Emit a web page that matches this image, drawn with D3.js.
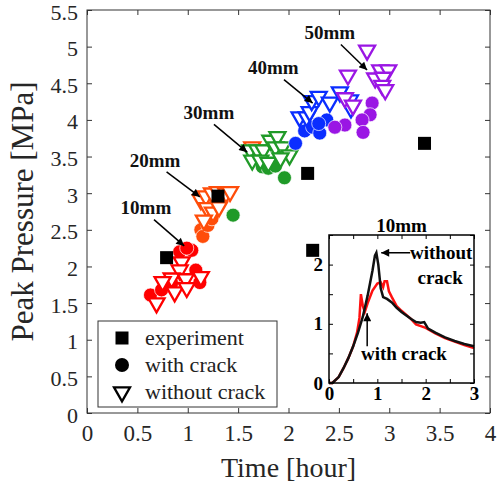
<!DOCTYPE html>
<html><head><meta charset="utf-8">
<script src="https://cdn.jsdelivr.net/npm/d3@7"></script>
<style>body{margin:0;background:#fff}text{font-family:"Liberation Serif","Times New Roman",serif}</style>
</head><body><svg id="c" width="498" height="492"></svg>
<script>
// ---------- data ----------
const xTicks = [0, 0.5, 1, 1.5, 2, 2.5, 3, 3.5, 4];
const yTicks = [0, 0.5, 1, 1.5, 2, 2.5, 3, 3.5, 4, 4.5, 5, 5.5];
const thickness = ["10mm", "20mm", "30mm", "40mm", "50mm"];
const colors = ["#ff0000", "#ff4d0a", "#209a28", "#0a2dff", "#9a16e4"];

const experiment = [[0.79, 2.12], [1.30, 2.96], [2.19, 3.27], [2.24, 2.22], [3.35, 3.68]];

const withCrack10 = [[0.63, 1.61], [0.74, 1.68], [0.84, 1.77], [1.08, 1.95], [1.12, 1.78], [0.92, 2.20], [1.04, 2.22], [0.99, 2.25]];
const withoutCrack10 = [[0.94, 2.06], [0.92, 1.95], [0.84, 1.84], [0.75, 1.79], [0.98, 1.83], [1.13, 1.86], [0.87, 1.65], [0.99, 1.71], [0.69, 1.50]];
const withCrack20 = [[1.13, 2.50], [1.15, 2.41], [1.20, 2.56], [1.24, 2.65]];
const withoutCrack20 = [[1.13, 2.91], [1.18, 2.96], [1.24, 3.00], [1.30, 3.02], [1.38, 3.00], [1.42, 3.02], [1.19, 2.80], [1.25, 2.74], [1.16, 2.63], [1.31, 2.81], [1.64, 3.63]];
const withCrack30 = [[1.45, 2.70], [1.74, 3.36], [1.80, 3.34], [1.87, 3.37], [1.96, 3.21]];
const withoutCrack30 = [[1.62, 3.59], [1.69, 3.59], [1.75, 3.59], [1.82, 3.72], [1.89, 3.77], [1.87, 3.63], [1.94, 3.63], [2.01, 3.52], [1.64, 3.45], [1.72, 3.45], [1.80, 3.42], [1.92, 3.48]];
const withCrack40 = [[2.07, 3.68], [2.16, 3.85], [2.24, 3.90], [2.31, 3.82], [2.38, 4.00], [2.30, 3.95]];
const withoutCrack40 = [[2.11, 4.04], [2.18, 4.04], [2.21, 4.11], [2.23, 4.26], [2.30, 4.32], [2.41, 4.24], [2.51, 4.38], [2.61, 4.27], [2.62, 4.16]];
const withCrack50 = [[2.83, 4.23], [2.81, 4.07], [2.73, 4.00], [2.56, 3.93], [2.74, 3.83], [2.46, 3.90]];
const withoutCrack50 = [[2.78, 4.95], [2.59, 4.61], [2.91, 4.68], [2.99, 4.68], [2.86, 4.57], [2.94, 4.58], [2.93, 4.47], [2.96, 4.41], [2.56, 4.30], [2.64, 4.20]];

const withCrackSets = [withCrack10, withCrack20, withCrack30, withCrack40, withCrack50];
const withoutCrackSets = [withoutCrack10, withoutCrack20, withoutCrack30, withoutCrack40, withoutCrack50];

// annotation label position and arrow (data units)
const annotations = [
  {label: "10mm", tx: 0.585, ty: 2.80, x1: 0.665, y1: 2.64, x2: 0.965, y2: 2.28},
  {label: "20mm", tx: 0.675, ty: 3.44, x1: 0.79, y1: 3.29, x2: 1.12, y2: 2.95},
  {label: "30mm", tx: 1.21, ty: 4.09, x1: 1.26, y1: 3.94, x2: 1.59, y2: 3.56},
  {label: "40mm", tx: 1.85, ty: 4.71, x1: 1.955, y1: 4.55, x2: 2.24, y2: 4.23},
  {label: "50mm", tx: 2.41, ty: 5.18, x1: 2.52, y1: 5.03, x2: 2.78, y2: 4.68}
];

const legendLabels = ["experiment", "with crack", "without crack"];

// inset: pressure history at 10mm
const insetXTicks = [0, 0.5, 1, 1.5, 2, 2.5, 3];
const insetYTicks = [0, 0.5, 1, 1.5, 2, 2.5];
const noCrackT = [0, 0.07, 0.2, 0.3, 0.4, 0.5, 0.6, 0.7, 0.8, 0.9, 0.95, 0.98, 1.02, 1.07, 1.12, 1.2, 1.3, 1.4, 1.5, 1.6, 1.7, 1.8, 1.9, 1.97, 2.05, 2.2, 2.4, 2.6, 2.8, 3.0];
const noCrackP = [0, 0, 0.1, 0.25, 0.42, 0.62, 0.85, 1.12, 1.48, 1.9, 2.15, 2.2, 2.0, 1.6, 1.45, 1.42, 1.36, 1.27, 1.2, 1.14, 1.08, 1.03, 1.02, 1.03, 0.92, 0.85, 0.77, 0.71, 0.66, 0.62];
const crackT = [0, 0.07, 0.2, 0.3, 0.4, 0.5, 0.58, 0.63, 0.66, 0.7, 0.74, 0.8, 0.9, 1.0, 1.07, 1.12, 1.15, 1.2, 1.24, 1.3, 1.4, 1.5, 1.6, 1.7, 1.8, 1.9, 2.0, 2.2, 2.4, 2.6, 2.8, 3.0];
const crackP = [0, 0, 0.1, 0.25, 0.42, 0.62, 0.85, 1.1, 1.5, 1.3, 1.2, 1.35, 1.56, 1.68, 1.7, 1.62, 1.72, 1.72, 1.55, 1.45, 1.3, 1.22, 1.15, 1.08, 0.99, 0.96, 0.93, 0.84, 0.76, 0.7, 0.64, 0.59];

// ---------- drawing ----------
const svg = d3.select("#c");
const L = 87, R = 490, T = 10, B = 413;
const x = d3.scaleLinear().domain([0, 4]).range([L, R]);
const y = d3.scaleLinear().domain([0, 5.5]).range([B, T]);
const axisColor = "#333";

svg.append("defs").append("marker")
  .attr("id", "ah").attr("viewBox", "0 0 10 10").attr("refX", 10).attr("refY", 5)
  .attr("markerWidth", 10).attr("markerHeight", 8).attr("markerUnits", "userSpaceOnUse")
  .attr("orient", "auto")
  .append("path").attr("d", "M0,0L10,5L0,10z").attr("fill", "#000");

svg.append("rect").attr("x", L).attr("y", T).attr("width", R - L).attr("height", B - T)
  .attr("fill", "#fff");

function styleAxis(g, fs) {
  g.select(".domain").remove();
  g.selectAll("line").attr("stroke", axisColor);
  g.selectAll("text").attr("font-size", fs).attr("fill", "#262626")
    .attr("font-family", "'Liberation Serif', serif");
}
svg.append("g").attr("transform", `translate(0,${B})`)
  .call(d3.axisBottom(x).tickValues(xTicks).tickSizeInner(-5).tickSizeOuter(0).tickPadding(12).tickFormat(d3.format("")))
  .call(g => styleAxis(g, 23));
svg.append("g").attr("transform", `translate(0,${T})`)
  .call(d3.axisTop(x).tickValues(xTicks).tickSizeInner(-5).tickSizeOuter(0).tickFormat(""))
  .call(g => styleAxis(g, 23));
svg.append("g").attr("transform", `translate(${L},0)`)
  .call(d3.axisLeft(y).tickValues(yTicks).tickSizeInner(-5).tickSizeOuter(0).tickPadding(9).tickFormat(d3.format("")))
  .call(g => styleAxis(g, 22))
  .call(g => g.selectAll("text").attr("y", 2));
svg.append("g").attr("transform", `translate(${R},0)`)
  .call(d3.axisRight(y).tickValues(yTicks).tickSizeInner(-5).tickSizeOuter(0).tickFormat(""))
  .call(g => styleAxis(g, 23));
svg.append("rect").attr("x", L).attr("y", T).attr("width", R - L).attr("height", B - T)
  .attr("fill", "none").attr("stroke", axisColor).attr("stroke-width", 1);

svg.append("text").attr("x", (L + R) / 2).attr("y", 477).attr("text-anchor", "middle")
  .attr("font-size", 28).attr("fill", "#262626").text("Time [hour]");
svg.append("text").attr("transform", `translate(33,${(T + B) / 2}) rotate(-90)`)
  .attr("text-anchor", "middle").attr("font-size", 31).attr("fill", "#262626")
  .text("Peak Pressure [MPa]");

// markers
const TW = 16, TH = 14;
const triPath = `M${-TW / 2},${-TH / 3}L${TW / 2},${-TH / 3}L0,${2 * TH / 3}Z`;
const plot = svg.append("g");
thickness.forEach((t, i) => {
  plot.append("g").selectAll("circle").data(withCrackSets[i]).join("circle")
    .attr("cx", d => x(d[0])).attr("cy", d => y(d[1])).attr("r", 7)
    .attr("fill", colors[i]).attr("stroke", "#fff").attr("stroke-width", 0.7);
  plot.append("g").selectAll("path").data(withoutCrackSets[i]).join("path")
    .attr("d", triPath).attr("transform", d => `translate(${x(d[0])},${y(d[1])})`)
    .attr("fill", "#fff").attr("stroke", colors[i]).attr("stroke-width", 2.3);
});
plot.append("g").selectAll("rect").data(experiment).join("rect")
  .attr("x", d => x(d[0]) - 6.5).attr("y", d => y(d[1]) - 6.5)
  .attr("width", 13).attr("height", 13).attr("fill", "#000");

// annotations
const ann = svg.append("g");
ann.selectAll("line").data(annotations).join("line")
  .attr("x1", d => x(d.x1)).attr("y1", d => y(d.y1)).attr("x2", d => x(d.x2)).attr("y2", d => y(d.y2))
  .attr("stroke", "#000").attr("stroke-width", 1.5).attr("marker-end", "url(#ah)");
ann.selectAll("text").data(annotations).join("text")
  .attr("x", d => x(d.tx)).attr("y", d => y(d.ty) + 6).attr("text-anchor", "middle")
  .attr("font-size", 19).attr("font-weight", "bold").attr("fill", "#111").text(d => d.label);

// legend
const lg = svg.append("g");
lg.append("rect").attr("x", 98).attr("y", 321).attr("width", 179).attr("height", 86)
  .attr("fill", "#fff").attr("stroke", axisColor).attr("stroke-width", 1);
const ly = [338, 365, 392];
lg.append("rect").attr("x", 122 - 6.5).attr("y", ly[0] - 6.5).attr("width", 13).attr("height", 13).attr("fill", "#000");
lg.append("circle").attr("cx", 122).attr("cy", ly[1]).attr("r", 7).attr("fill", "#000");
lg.append("path").attr("d", triPath).attr("transform", `translate(122,${ly[2]})`)
  .attr("fill", "#fff").attr("stroke", "#000").attr("stroke-width", 2.3);
lg.selectAll("text.l").data(legendLabels).join("text").attr("class", "l")
  .attr("x", 145).attr("y", (d, i) => ly[i] + 7).attr("font-size", 22).attr("fill", "#222").text(d => d);

// inset
const iL = 329, iR = 474, iT = 235, iB = 383;
const ix = d3.scaleLinear().domain([0, 3]).range([iL, iR]);
const iy = d3.scaleLinear().domain([0, 2.5]).range([iB, iT]);
const ins = svg.append("g");
ins.append("rect").attr("x", iL).attr("y", iT).attr("width", iR - iL).attr("height", iB - iT).attr("fill", "#fff");
const intFmt = d => Number.isInteger(d) ? d : "";
function styleInset(g) {
  g.select(".domain").remove();
  g.selectAll("line").attr("stroke", "#000");
  g.selectAll("text").attr("font-size", 19).attr("font-weight", "bold").attr("fill", "#000")
    .attr("font-family", "'Liberation Serif', serif");
}
ins.append("g").attr("transform", `translate(0,${iB})`)
  .call(d3.axisBottom(ix).tickValues(insetXTicks).tickSizeInner(-4).tickSizeOuter(0).tickPadding(4).tickFormat(intFmt)).call(styleInset);
ins.append("g").attr("transform", `translate(0,${iT})`)
  .call(d3.axisTop(ix).tickValues(insetXTicks).tickSizeInner(-4).tickSizeOuter(0).tickFormat("")).call(styleInset);
ins.append("g").attr("transform", `translate(${iL},0)`)
  .call(d3.axisLeft(iy).tickValues(insetYTicks).tickSizeInner(-4).tickSizeOuter(0).tickPadding(6).tickFormat(intFmt)).call(styleInset);
ins.append("g").attr("transform", `translate(${iR},0)`)
  .call(d3.axisRight(iy).tickValues(insetYTicks).tickSizeInner(-4).tickSizeOuter(0).tickFormat("")).call(styleInset);

const line = d3.line().x(d => ix(d[0])).y(d => iy(d[1]));
ins.append("path").datum(crackT.map((t, i) => [t, crackP[i]])).attr("d", line)
  .attr("fill", "none").attr("stroke", "#ff1010").attr("stroke-width", 2.5);
ins.append("path").datum(noCrackT.map((t, i) => [t, noCrackP[i]])).attr("d", line)
  .attr("fill", "none").attr("stroke", "#111").attr("stroke-width", 2.5);
ins.append("rect").attr("x", iL).attr("y", iT).attr("width", iR - iL).attr("height", iB - iT)
  .attr("fill", "none").attr("stroke", "#000").attr("stroke-width", 1.5);

ins.append("text").attr("x", (iL + iR) / 2).attr("y", iT - 3).attr("text-anchor", "middle")
  .attr("font-size", 19).attr("font-weight", "bold").text("10mm");
ins.append("line").attr("x1", ix(1.68)).attr("y1", iy(2.2)).attr("x2", ix(1.08)).attr("y2", iy(2.2))
  .attr("stroke", "#000").attr("stroke-width", 1.5).attr("marker-end", "url(#ah)");
ins.append("text").attr("x", ix(2.32)).attr("y", iy(2.1)).attr("text-anchor", "middle")
  .attr("font-size", 19).attr("font-weight", "bold").text("without");
ins.append("text").attr("x", ix(2.3)).attr("y", iy(1.67)).attr("text-anchor", "middle")
  .attr("font-size", 19).attr("font-weight", "bold").text("crack");
ins.append("line").attr("x1", ix(0.79)).attr("y1", iy(0.62)).attr("x2", ix(0.79)).attr("y2", iy(1.18))
  .attr("stroke", "#000").attr("stroke-width", 1.5).attr("marker-end", "url(#ah)");
ins.append("text").attr("x", ix(1.55)).attr("y", iy(0.39)).attr("text-anchor", "middle")
  .attr("font-size", 19).attr("font-weight", "bold").text("with crack");
</script></body></html>
